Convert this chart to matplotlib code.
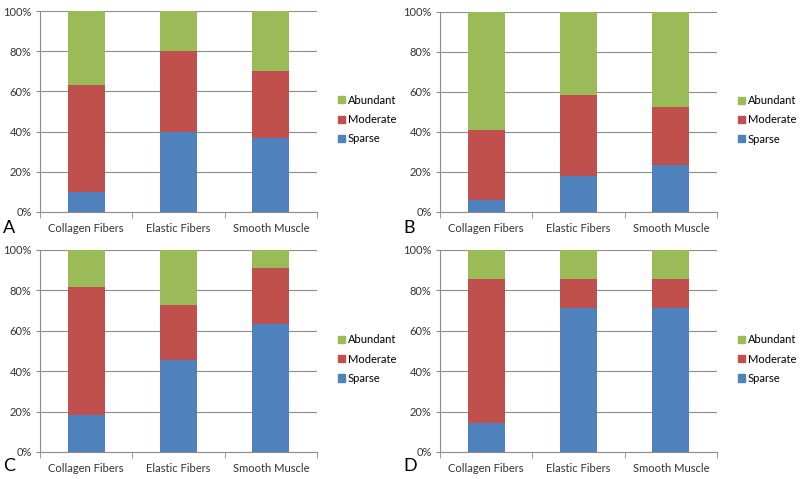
import numpy as np
import matplotlib.pyplot as plt
from matplotlib.patches import Patch
from matplotlib.ticker import FixedLocator, PercentFormatter

plt.rcParams['font.family'] = ['Lato', 'DejaVu Sans']

categories = ["Collagen Fibers", "Elastic Fibers", "Smooth Muscle"]
series_names = ["Sparse", "Moderate", "Abundant"]
colors = ["#4F81BD", "#C0504D", "#9BBB59"]

# percentages per panel: sparse, moderate, abundant
sparse_a = [10.0, 40.0, 36.7]
moderate_a = [53.0, 40.0, 33.3]
abundant_a = [37.0, 20.0, 30.0]

sparse_b = [5.9, 17.8, 23.6]
moderate_b = [35.3, 40.8, 29.1]
abundant_b = [58.8, 41.4, 47.3]

sparse_c = [18.2, 45.5, 63.6]
moderate_c = [63.6, 27.3, 27.3]
abundant_c = [18.2, 27.2, 9.1]

sparse_d = [14.3, 71.4, 71.4]
moderate_d = [71.4, 14.3, 14.3]
abundant_d = [14.3, 14.3, 14.3]

panels = [
    ("A", [sparse_a, moderate_a, abundant_a], (40, 11, 212), 228),
    ("B", [sparse_b, moderate_b, abundant_b], (440, 12, 212), 228),
    ("C", [sparse_c, moderate_c, abundant_c], (40, 250, 452), 466),
    ("D", [sparse_d, moderate_d, abundant_d], (440, 250, 452), 466),
]

W, H = 800, 479
fig = plt.figure(figsize=(8, 4.79), dpi=100)
grey = "#8C8C8C"

for letter, data, (x0, top, bot), ly in panels:
    ax = fig.add_axes([x0 / W, (H - bot) / H, 277 / W, (bot - top) / H])
    x = np.arange(len(categories))
    bottom = np.zeros(len(categories))
    for vals, name, c in zip(data, series_names, colors):
        ax.bar(x, vals, 0.4, bottom=bottom, color=c, label=name, zorder=3)
        bottom += np.array(vals)
    ax.set_xlim(-0.5, 2.5)
    ax.set_ylim(0, 100)
    ax.set_yticks(np.arange(0, 101, 20))
    ax.yaxis.set_major_formatter(PercentFormatter(decimals=0))
    ax.set_xticks(x)
    ax.set_xticklabels(categories)
    ax.xaxis.set_minor_locator(FixedLocator([-0.5, 0.5, 1.5, 2.5]))
    ax.tick_params(axis='x', which='major', length=0, pad=8, labelsize=8, colors='#333333')
    ax.tick_params(axis='x', which='minor', length=4, color=grey)
    ax.tick_params(axis='y', length=3, color=grey, labelsize=8, pad=3, labelcolor='#333333')
    ax.grid(axis='y', color=grey, linewidth=0.8, zorder=0)
    for s in ['top', 'right']:
        ax.spines[s].set_visible(False)
    for s in ['left', 'bottom']:
        ax.spines[s].set_color(grey)
        ax.spines[s].set_linewidth(0.8)
    handles = [Patch(color=c) for c in colors][::-1]
    ax.legend(handles, series_names[::-1], loc='center left', bbox_to_anchor=(1.04, 0.46),
              frameon=False, handlelength=0.6, handleheight=0.6, handletextpad=0.3,
              labelspacing=0.75, fontsize=8)
    fig.text((x0 - 37) / W, 1 - ly / H, letter, fontsize=13, va='center', ha='left')

fig.savefig("out.png", dpi=100)
